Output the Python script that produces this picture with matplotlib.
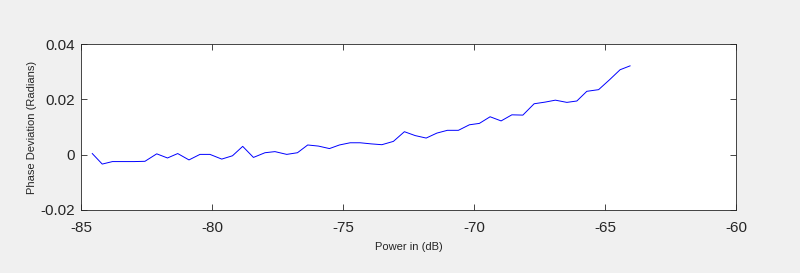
import matplotlib
matplotlib.use("Agg")
import matplotlib.pyplot as plt

power_db = [-84.57, -84.19, -83.8, -83.38, -82.97, -82.56, -82.11, -81.7, -81.31, -80.88,
            -80.46, -80.08, -79.63, -79.22, -78.83, -78.42, -77.98, -77.6, -77.15, -76.74,
            -76.35, -75.94, -75.52, -75.14, -74.73, -74.35, -73.93, -73.52, -73.08, -72.66,
            -72.25, -71.83, -71.42, -71.02, -70.6, -70.18, -69.8, -69.39, -68.97, -68.56,
            -68.14, -67.71, -67.29, -66.9, -66.46, -66.08, -65.7, -65.25, -64.83, -64.43,
            -64.05]
phase_dev = [0.0004, -0.0034, -0.0025, -0.0025, -0.0025, -0.0024, 0.0003, -0.0012, 0.0004, -0.0019,
             0.0001, 0.0001, -0.0016, -0.0004, 0.003, -0.001, 0.0007, 0.0011, 0.0001, 0.0007,
             0.0035, 0.0031, 0.0022, 0.0035, 0.0043, 0.0043, 0.0039, 0.0036, 0.0048, 0.0083,
             0.0069, 0.006, 0.0078, 0.0088, 0.0088, 0.0108, 0.0113, 0.0137, 0.0122, 0.0144,
             0.0143, 0.0184, 0.019, 0.0197, 0.0189, 0.0194, 0.0229, 0.0235, 0.0271, 0.0307,
             0.0321]
x_ticks = [-85, -80, -75, -70, -65, -60]
y_ticks = [-0.02, 0, 0.02, 0.04]
y_tick_labels = ["-0.02", "0", "0.02", "0.04"]

plt.rcParams['font.family'] = ['Liberation Sans', 'DejaVu Sans']
fig = plt.figure(figsize=(8, 2.73), dpi=100, facecolor='#f0f0f0')
ax = fig.add_axes([0.10125, 0.2308, 0.819, 0.608])
ax.set_facecolor('white')
ax.plot(power_db, phase_dev, color='#0000ff', linewidth=0.7)
ax.set_xlim(-85, -60)
ax.set_ylim(-0.02, 0.04)
ax.set_xticks(x_ticks)
ax.set_xticklabels([str(t) for t in x_ticks])
ax.set_yticks(y_ticks)
ax.set_yticklabels(y_tick_labels)
axcol = '#262626'
for s in ax.spines.values():
    s.set_color(axcol)
    s.set_linewidth(0.6)
ax.tick_params(direction='in', top=True, right=True, length=4, width=0.6,
               colors=axcol, labelsize=11, labelcolor=axcol)
ax.tick_params(axis='x', pad=8)
ax.tick_params(axis='y', pad=4.5)
ax.set_xlabel('Power in (dB)', fontsize=8, color=axcol, labelpad=5)
ax.set_ylabel('Phase Deviation (Radians)', fontsize=8, color=axcol, labelpad=2)
fig.savefig('out.png', dpi=100, facecolor=fig.get_facecolor())
